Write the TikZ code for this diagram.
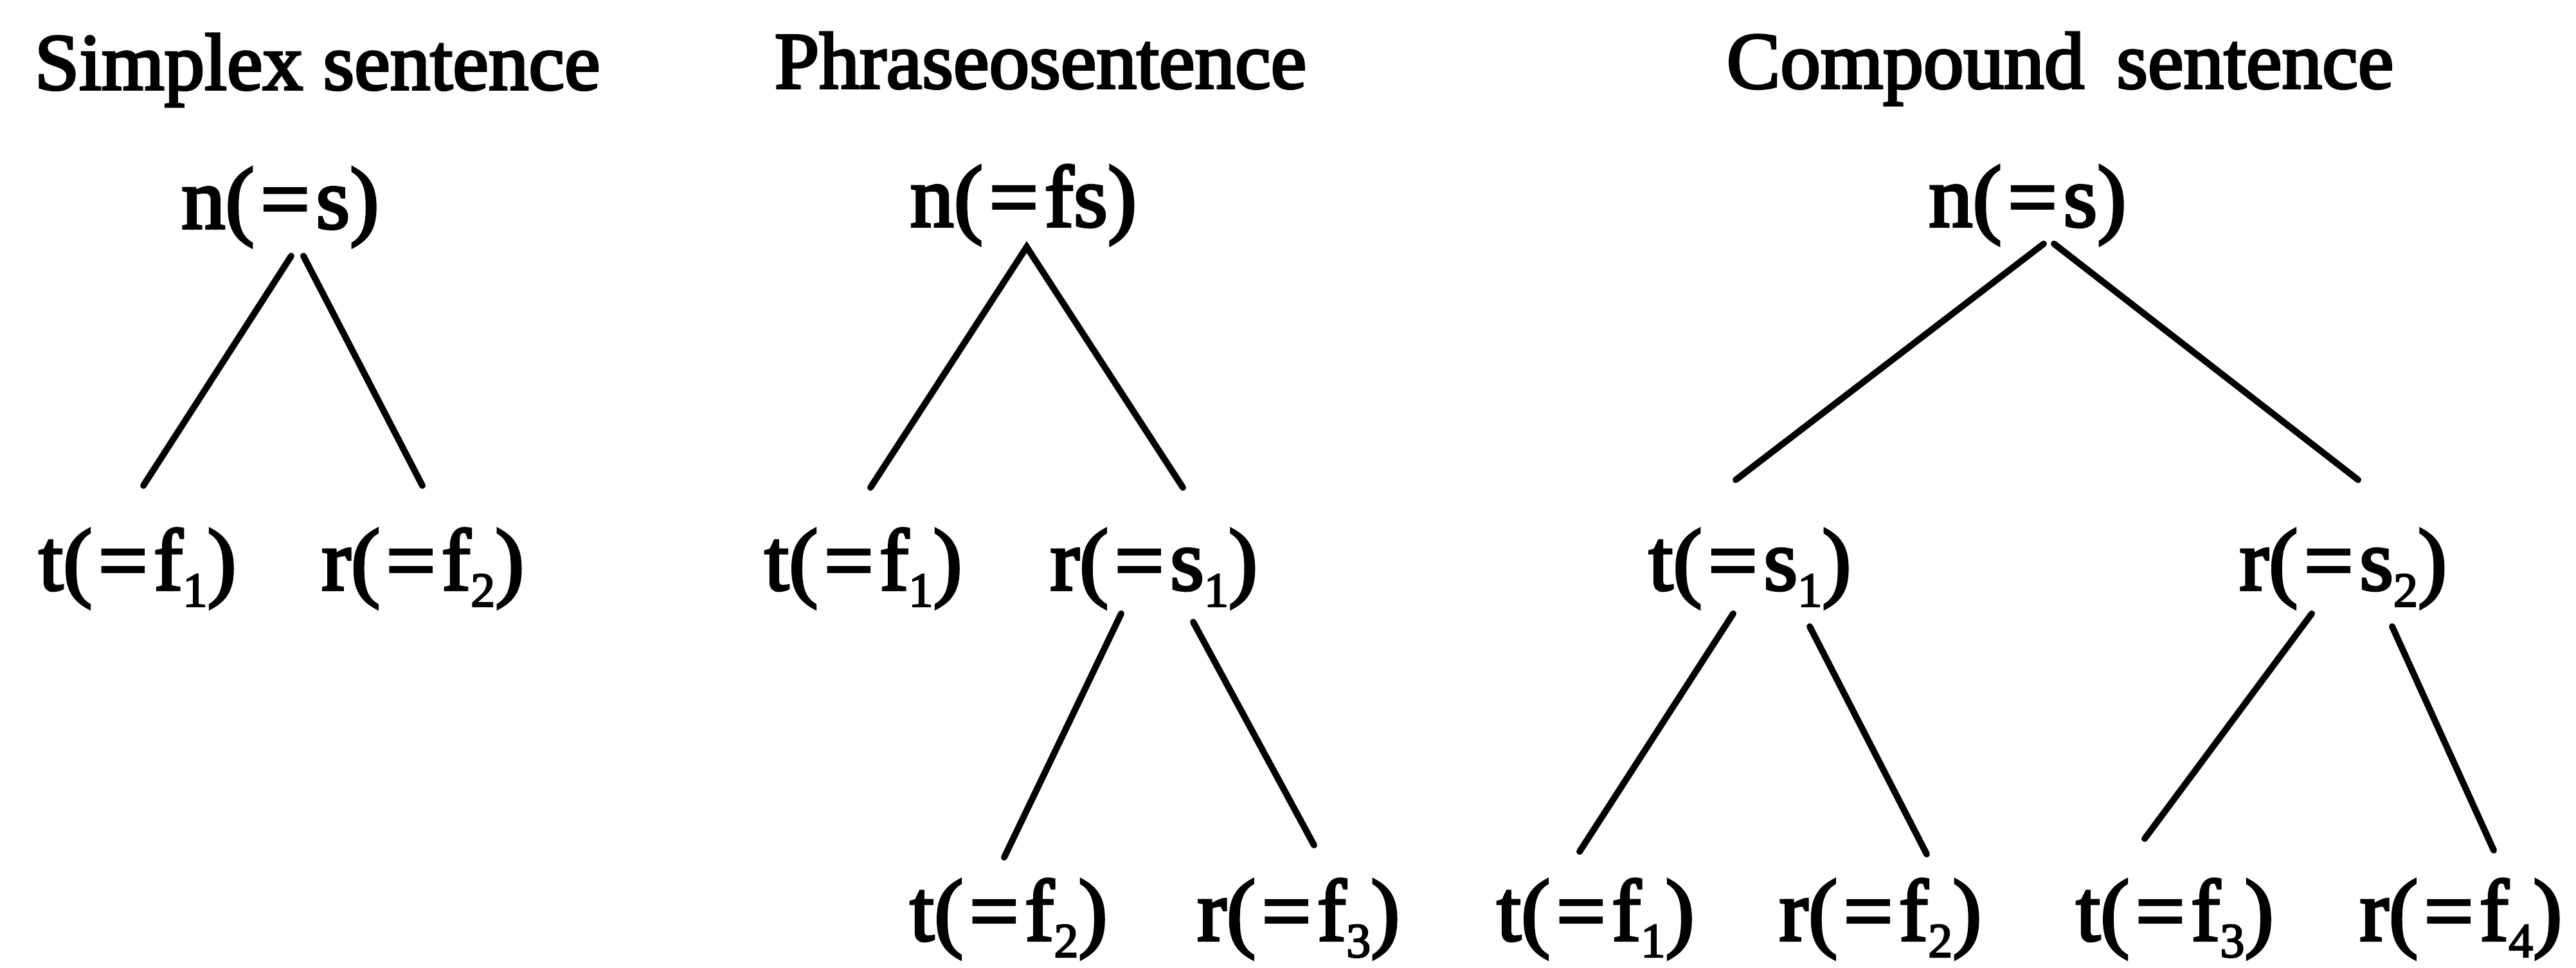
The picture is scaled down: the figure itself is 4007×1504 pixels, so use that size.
\documentclass[tikz,border=0pt]{standalone}
\usepackage{fontspec}
\setmainfont{Liberation Serif}[FakeBold=3]
\newcommand\sbs[1]{\raisebox{-6.5pt}{\fontsize{19}{21}\selectfont #1}}
\newcommand\eqs{\kern0.07em=\kern0.07em}
\begin{document}
\begin{tikzpicture}[x=0.25pt,y=-0.25pt,
  ttl/.style={inner sep=0pt,anchor=base west,font=\fontsize{31.3}{34}\selectfont},
  lab/.style={inner sep=0pt,anchor=base,font=\fontsize{34}{38}\selectfont},
  edge/.style={line width=2.5pt,line cap=round}]
\useasboundingbox (0,0) rectangle (4007,1504);
% titles
\node[ttl] (T1) at (53,139) {Simplex\hspace{0.25em}sentence};
\node[ttl] (T2) at (1204,137) {Phraseosentence};
\node[ttl] (T3) at (2685,137) {Compound\hspace{0.4em}sentence};
% simplex
\node[lab] (s-n) at (436,355) {n(\eqs s)};
\node[lab] (s-t) at (214,917) {t(\eqs f\sbs{1})};
\node[lab] (s-r) at (658,917) {r(\eqs f\sbs{2})};
% phraseo
\node[lab] (p-n) at (1592,352) {n(\eqs fs)};
\node[lab] (p-t) at (1343,917) {t(\eqs f\sbs{1})};
\node[lab] (p-r) at (1795,917) {r(\eqs s\sbs{1})};
\node[lab] (p-rt) at (1569,1462) {t(\eqs f\sbs{2})};
\node[lab] (p-rr) at (2020,1462) {r(\eqs f\sbs{3})};
% compound
\node[lab] (c-n) at (3154,352) {n(\eqs s)};
\node[lab] (c-t) at (2722,917) {t(\eqs s\sbs{1})};
\node[lab] (c-r) at (3645,917) {r(\eqs s\sbs{2})};
\node[lab] (c-tt) at (2482,1462) {t(\eqs f\sbs{1})};
\node[lab] (c-tr) at (2925,1462) {r(\eqs f\sbs{2})};
\node[lab] (c-rt) at (3383,1462) {t(\eqs f\sbs{3})};
\node[lab] (c-rr) at (3828,1462) {r(\eqs f\sbs{4})};
% connector end points
\coordinate (s-a1) at (453,398);  \coordinate (s-b1) at (223,755);
\coordinate (s-a2) at (472,398);  \coordinate (s-b2) at (657,755);
\coordinate (p-a)  at (1597,384); \coordinate (p-b1) at (1354,758);
\coordinate (p-b2) at (1840,758);
\coordinate (p-c1) at (1744,954); \coordinate (p-d1) at (1562,1333);
\coordinate (p-c2) at (1856,967); \coordinate (p-d2) at (2044,1314);
\coordinate (c-a1) at (3179,379); \coordinate (c-b1) at (2700,746);
\coordinate (c-a2) at (3195,379); \coordinate (c-b2) at (3668,746);
\coordinate (c-c1) at (2696,954); \coordinate (c-d1) at (2457,1324);
\coordinate (c-c2) at (2815,974); \coordinate (c-d2) at (2997,1328);
\coordinate (c-c3) at (3596,954); \coordinate (c-d3) at (3336,1304);
\coordinate (c-c4) at (3721,974); \coordinate (c-d4) at (3879,1322);
% connectors
\draw[edge] (s-a1) -- (s-b1);
\draw[edge] (s-a2) -- (s-b2);
\draw[edge,line join=miter] (p-b1) -- (p-a) -- (p-b2);
\draw[edge] (p-c1) -- (p-d1);
\draw[edge] (p-c2) -- (p-d2);
\draw[edge] (c-a1) -- (c-b1);
\draw[edge] (c-a2) -- (c-b2);
\draw[edge] (c-c1) -- (c-d1);
\draw[edge] (c-c2) -- (c-d2);
\draw[edge] (c-c3) -- (c-d3);
\draw[edge] (c-c4) -- (c-d4);
\end{tikzpicture}
\end{document}
